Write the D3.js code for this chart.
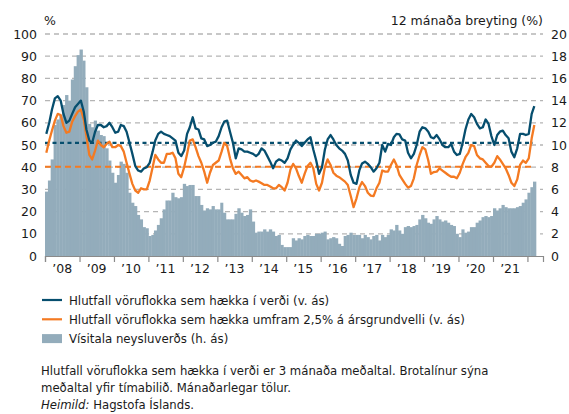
<!DOCTYPE html>
<html>
<head>
<meta charset="utf-8">
<script src="https://cdn.jsdelivr.net/npm/d3@7"></script>
<style>
  body { margin: 0; background: #fff; }
  svg { display: block; font-family: "DejaVu Sans", sans-serif; }
</style>
</head>
<body>
<svg id="chart"></svg>
<script>
// Vísitala neysluverðs, 12 mánaða breyting (%), jan. 2008 - mars 2022 (h. ás)
const visitala = [
  5.8, 6.8, 8.7, 11.8, 12.3, 12.7, 13.6, 14.5, 14.0, 15.9, 17.1, 18.1,
  18.6, 17.6, 15.2, 11.9, 11.6, 12.2, 11.3, 10.9, 10.8, 9.7, 8.6, 7.5,
  6.6, 7.3, 8.5, 8.3, 7.5, 5.7, 4.8, 4.5, 3.7, 3.3, 2.6, 2.5,
  1.8, 1.9, 2.3, 2.8, 3.4, 4.2, 5.0, 5.0, 5.7, 5.3, 5.2, 5.3,
  6.5, 6.3, 6.4, 6.4, 5.4, 5.4, 4.6, 4.1, 4.3, 4.2, 4.5, 4.2,
  4.2, 4.8, 3.9, 3.3, 3.3, 3.3, 3.8, 4.3, 3.9, 3.6, 3.7, 4.2,
  3.1, 2.1, 2.2, 2.2, 2.4, 2.2, 2.4, 2.2, 1.8, 1.9, 1.0, 0.8,
  0.8, 0.8, 1.6, 1.4, 1.6, 1.5, 1.8, 1.9, 1.8, 1.8, 2.0, 2.0,
  2.1, 2.2, 1.5, 1.6, 1.7, 1.6, 1.1, 0.9, 1.8, 1.9, 2.1, 1.9,
  1.9, 1.9, 1.6, 1.9, 1.7, 1.5, 1.8, 1.9, 1.4, 1.9, 1.7, 1.9,
  2.4, 2.3, 2.8, 2.3, 2.0, 2.6, 2.7, 2.6, 2.7, 2.8, 3.3, 3.7,
  3.4, 3.0, 2.9, 3.3, 3.6, 3.3, 3.1, 3.2, 3.0, 2.8, 2.7, 2.0,
  1.7, 2.4, 2.1, 2.2, 2.6, 2.6, 3.0, 3.2, 3.5, 3.6, 3.5, 3.6,
  4.3, 4.1, 4.3, 4.6, 4.4, 4.3, 4.3, 4.3, 4.4, 4.5, 4.8, 5.1,
  5.7, 6.2, 6.7
];

// Hlutfall vöruflokka sem hækka í verði (%, v. ás)
const hlutfallHaekka = [
  55, 60, 66, 71, 72, 70, 64, 60, 61, 64, 67, 68.5,
  70, 65, 57, 52, 51, 56, 59, 59, 58, 58.5, 60, 58,
  55.5, 56, 59, 58.5, 56, 51, 46, 40.5, 38.5, 38, 39.5, 40,
  42, 47, 52, 55, 56, 55, 54.5, 54, 53, 52, 46.5, 45,
  47.5, 55, 58, 62.5, 57.5, 57, 53, 52.5, 49.5, 50, 51, 51.5,
  54, 58, 60.5, 61, 56, 51, 44, 48.5, 48, 47, 47, 46.5,
  46, 45, 46, 48.5, 47.5, 45, 42.5, 39.5, 42.5, 43.5, 43, 42,
  44, 48, 50, 52, 51, 49.5, 51, 52.5, 53.5, 48, 43, 37,
  40, 48, 52.5, 54.5, 52.5, 50, 48.5, 47.5, 46, 43, 36.5, 33,
  32.5, 38.7, 41.7, 42.5, 41.5, 40, 38, 39.5, 42, 50, 47, 50.5,
  50, 53.5, 55, 54.8, 52.5, 52, 46.5, 44, 46, 50, 56, 58,
  57.5, 56, 53.5, 53, 54.5, 52.5, 50, 49, 49, 50.5, 47, 45.5,
  46, 51, 57, 61.5, 64, 62.5, 59.5, 57.5, 58, 61.5, 59.5, 54,
  50, 54.5, 56, 56.5, 54.5, 53, 47, 44.5, 48.5, 55, 55, 54.5,
  55, 64, 67.5
];

// Hlutfall vöruflokka sem hækka umfram 2,5% á ársgrundvelli (%, v. ás)
const hlutfallUmfram = [
  46.5, 52, 56.5, 61, 64, 63.5, 58.5, 55.5, 56, 60.5, 63, 65,
  66, 61.5, 54, 45.5, 43.5, 47.5, 52, 50, 49, 50.5, 51.5, 49,
  49, 50, 49.5, 47, 42, 37, 32.5, 29.5, 28.5, 30.5, 30, 30,
  34, 40, 45.5, 43.5, 42, 42, 46, 46, 46.5, 44, 37, 35.5,
  40, 46, 52, 52.5, 49, 45, 42, 38, 33, 37.5, 41, 42,
  43, 47, 51, 49.5, 44, 39.5, 37, 38, 36.5, 35, 35.5, 34,
  33.5, 34, 33.5, 32.8, 32, 32, 31.3, 30.5, 30.5, 32, 31, 29.5,
  33, 39, 41.5, 39.5, 36, 33, 37, 40.5, 42, 39.5, 32.5, 29.5,
  33, 40, 43.5, 41, 37.5, 36.2, 35.5, 34.5, 33.5, 32, 27, 22,
  26, 31, 33.3, 31.5, 28.5, 27.2, 27, 30.5, 33, 38.5, 38, 38,
  41, 43.5, 41, 36.5, 34.5, 32.5, 30.8, 31.5, 35, 41, 45.5, 49,
  48, 43, 37, 37.8, 38, 39.5, 38.5, 37.5, 36.5, 35.7, 35.7, 35,
  37.5, 41.5, 44.5, 46.5, 50, 49.5, 45.5, 44, 43.5, 42, 40.5, 40.2,
  42, 45, 43.5, 41.5, 39.5, 36.5, 33, 31.5, 34.5, 41, 43, 42,
  44, 53, 59
];

// Meðaltöl yfir tímabilið (brotalínur)
const medaltalHaekka = 51;
const medaltalUmfram = 40.2;

const leftTicks = [0, 10, 20, 30, 40, 50, 60, 70, 80, 90, 100];
const rightTicks = [0, 2, 4, 6, 8, 10, 12, 14, 16, 18, 20];
const yearLabels = ["’08", "’09", "’10", "’11", "’12", "’13", "’14",
  "’15", "’16", "’17", "’18", "’19", "’20", "’21"];

const blue = "#064e6e",
  orange = "#f47a22",
  barColor = "#93acbb",
  gridColor = "#b5b5b5";

const margin = { top: 34, right: 26, bottom: 158, left: 45 },
  width = 569 - margin.left - margin.right,
  height = 414 - margin.top - margin.bottom;

const root = d3.select("#chart").attr("width", 569).attr("height", 414);

const svg = root
  .append("g")
  .attr("transform", `translate(${margin.left},${margin.top})`);

const data = visitala.map((v, i) => ({
  start: new Date(2008, i, 1),
  end: new Date(2008, i + 1, 1),
  mid: new Date(2008, i, 15),
  cpi: v,
  haekka: hlutfallHaekka[i],
  umfram: hlutfallUmfram[i],
}));

const x = d3
  .scaleTime()
  .domain([new Date(2008, 0, 1), new Date(2022, 5, 15)])
  .range([0, width]);

const yLeft = d3.scaleLinear().domain([0, 100]).range([height, 0]);
const yRight = d3.scaleLinear().domain([0, 20]).range([height, 0]);

// Hnitalínur
svg
  .selectAll(".grid")
  .data(leftTicks.filter((d) => d > 0))
  .enter()
  .append("line")
  .attr("x1", 0)
  .attr("x2", width)
  .attr("y1", (d) => yLeft(d))
  .attr("y2", (d) => yLeft(d))
  .attr("stroke", gridColor)
  .attr("stroke-width", 1.3)
  .attr("stroke-dasharray", "5,4");

// Súlur
svg
  .selectAll(".bar")
  .data(data)
  .enter()
  .append("rect")
  .attr("x", (d) => x(d.start))
  .attr("y", (d) => yRight(d.cpi))
  .attr("width", (d) => x(d.end) - x(d.start) + 0.4)
  .attr("height", (d) => height - yRight(d.cpi))
  .attr("fill", barColor);

// Meðaltöl
const lastStart = data[data.length - 1].start;
[
  { v: medaltalUmfram, c: orange, dash: "6,4" },
  { v: medaltalHaekka, c: blue, dash: "4,3.5" },
].forEach((m) => {
  svg
    .append("line")
    .attr("x1", x(data[0].start))
    .attr("x2", x(lastStart))
    .attr("y1", yLeft(m.v))
    .attr("y2", yLeft(m.v))
    .attr("stroke", m.c)
    .attr("stroke-width", 2.2)
    .attr("stroke-dasharray", m.dash);
});

// Línur
const lineUmfram = d3
  .line()
  .x((d) => x(d.mid))
  .y((d) => yLeft(d.umfram));
const lineHaekka = d3
  .line()
  .x((d) => x(d.mid))
  .y((d) => yLeft(d.haekka));

svg
  .append("path")
  .datum(data)
  .attr("d", lineUmfram)
  .attr("fill", "none")
  .attr("stroke", orange)
  .attr("stroke-width", 2.3)
  .attr("stroke-linejoin", "round");

svg
  .append("path")
  .datum(data)
  .attr("d", lineHaekka)
  .attr("fill", "none")
  .attr("stroke", blue)
  .attr("stroke-width", 2.3)
  .attr("stroke-linejoin", "round");

// X-ás
const yearTicks = d3.range(2008, 2023).map((y) => new Date(y, 0, 1));
const xAxis = svg
  .append("g")
  .attr("transform", `translate(0,${height})`)
  .call(d3.axisBottom(x).tickValues(yearTicks).tickFormat("").tickSize(6).tickSizeOuter(6));
xAxis.selectAll("path, line").attr("stroke", "#8a8a8a").attr("stroke-width", 1.2);

svg
  .selectAll(".year")
  .data(yearLabels)
  .enter()
  .append("text")
  .attr("x", (d, i) => x(new Date(2008 + i, 6, 1)))
  .attr("y", height + 17)
  .attr("text-anchor", "middle")
  .attr("font-size", "12.5px")
  .attr("fill", "#1a1a1a")
  .text((d) => d);

// Y-ásar
svg
  .selectAll(".ltick")
  .data(leftTicks)
  .enter()
  .append("text")
  .attr("x", -8)
  .attr("y", (d) => yLeft(d))
  .attr("dy", "0.36em")
  .attr("text-anchor", "end")
  .attr("font-size", "12.5px")
  .attr("fill", "#1a1a1a")
  .text((d) => d);

svg
  .selectAll(".rtick")
  .data(rightTicks)
  .enter()
  .append("text")
  .attr("x", width + 8)
  .attr("y", (d) => yRight(d))
  .attr("dy", "0.36em")
  .attr("text-anchor", "start")
  .attr("font-size", "12.5px")
  .attr("fill", "#1a1a1a")
  .text((d) => d);

svg
  .append("text")
  .attr("x", -1)
  .attr("y", -9)
  .attr("font-size", "12.5px")
  .attr("fill", "#1a1a1a")
  .text("%");

svg
  .append("text")
  .attr("x", width)
  .attr("y", -9)
  .attr("text-anchor", "end")
  .attr("font-size", "12.5px")
  .attr("fill", "#1a1a1a")
  .text("12 mánaða breyting (%)");

// Skýringar
const legend = root.append("g").attr("font-size", "11.8px").attr("fill", "#1a1a1a");
const legendItems = [
  { type: "line", color: blue, label: "Hlutfall vöruflokka sem hækka í verði (v. ás)" },
  { type: "line", color: orange, label: "Hlutfall vöruflokka sem hækka umfram 2,5% á ársgrundvelli (v. ás)" },
  { type: "rect", color: barColor, label: "Vísitala neysluverðs (h. ás)" },
];
legendItems.forEach((d, i) => {
  const yy = 300 + i * 19.3;
  if (d.type === "line") {
    legend
      .append("line")
      .attr("x1", 42)
      .attr("x2", 62)
      .attr("y1", yy)
      .attr("y2", yy)
      .attr("stroke", d.color)
      .attr("stroke-width", 2.2);
  } else {
    legend
      .append("rect")
      .attr("x", 42)
      .attr("y", yy - 4.5)
      .attr("width", 20)
      .attr("height", 9)
      .attr("fill", d.color);
  }
  legend
    .append("text")
    .attr("x", 69)
    .attr("y", yy + 4.6)
    .text(d.label);
});

// Neðanmálsgrein
const note = root.append("g").attr("font-size", "11.7px").attr("fill", "#1a1a1a");
note
  .append("text")
  .attr("x", 41)
  .attr("y", 375)
  .text("Hlutfall vöruflokka sem hækka í verði er 3 mánaða meðaltal. Brotalínur sýna");
note
  .append("text")
  .attr("x", 41)
  .attr("y", 392)
  .text("meðaltal yfir tímabilið. Mánaðarlegar tölur.");
const source = note.append("text").attr("x", 41).attr("y", 409);
source.append("tspan").attr("font-style", "italic").text("Heimild:");
source.append("tspan").text(" Hagstofa Íslands.");
</script>
</body>
</html>
